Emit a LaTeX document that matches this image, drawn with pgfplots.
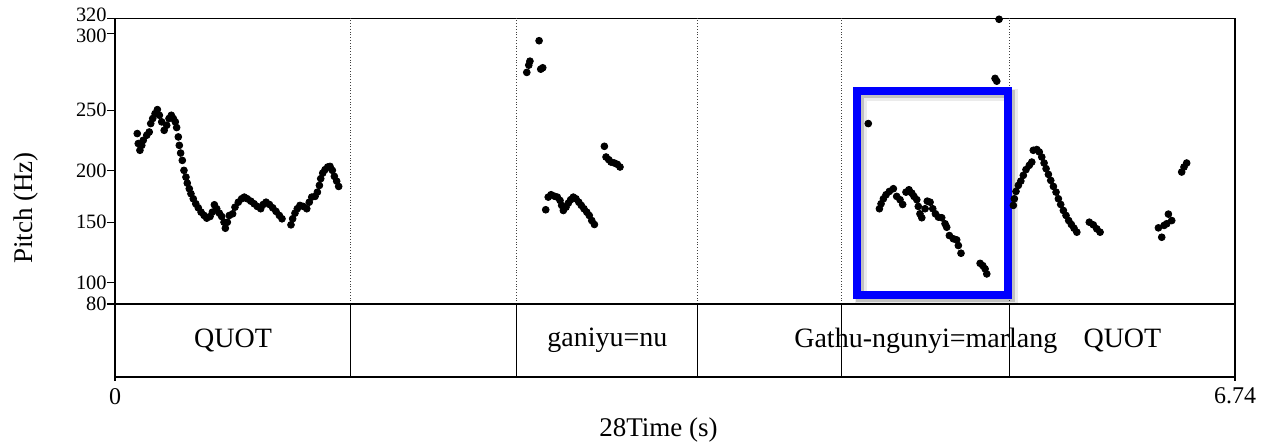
\documentclass[border=0pt]{standalone}
\usepackage{pgfplots}
\pgfplotsset{compat=1.18}
\usepackage{pgfplotstable}
\usepackage{fontspec}
\setmainfont{Liberation Serif}

\pgfplotstableread{
t f
0.134 230.6
0.140 222.3
0.150 216.7
0.161 220.8
0.170 225.0
0.191 229.2
0.206 231.9
0.215 238.9
0.227 243.1
0.241 247.2
0.255 250.4
0.267 245.8
0.281 240.3
0.296 233.3
0.311 237.5
0.325 243.1
0.339 245.8
0.351 243.1
0.363 240.3
0.371 235.6
0.381 227.8
0.387 220.8
0.395 214.4
0.405 208.3
0.415 200.0
0.427 193.5
0.435 187.7
0.447 182.3
0.457 177.5
0.471 172.6
0.486 167.8
0.501 163.9
0.518 159.7
0.536 156.5
0.552 153.9
0.572 155.5
0.586 159.7
0.598 166.8
0.612 163.0
0.628 158.7
0.642 155.5
0.656 150.0
0.664 145.0
0.676 150.0
0.688 156.5
0.708 158.1
0.722 164.5
0.742 169.3
0.762 172.6
0.778 174.2
0.796 172.6
0.817 170.3
0.837 167.8
0.856 165.2
0.877 163.0
0.892 167.1
0.909 169.3
0.929 167.1
0.949 163.9
0.969 160.4
0.989 156.5
1.005 153.3
1.059 147.8
1.069 153.3
1.083 158.7
1.097 163.0
1.113 166.2
1.133 165.2
1.154 163.0
1.169 169.3
1.184 174.2
1.204 174.9
1.218 179.0
1.230 185.5
1.238 192.0
1.250 197.4
1.264 200.6
1.280 202.8
1.294 203.3
1.308 200.0
1.320 194.2
1.334 189.6
1.346 184.5
2.478 274.6
2.490 279.3
2.497 281.9
2.552 295.2
2.562 276.7
2.574 277.6
2.592 162.0
2.607 174.2
2.624 176.5
2.644 175.1
2.662 174.2
2.678 171.0
2.688 166.2
2.698 161.3
2.714 164.5
2.728 168.4
2.742 171.7
2.758 174.2
2.774 172.6
2.791 169.3
2.806 166.2
2.822 163.0
2.839 159.7
2.854 156.5
2.869 151.6
2.885 148.1
2.945 220.0
2.955 211.1
2.971 208.9
2.985 206.9
3.005 206.1
3.023 205.0
3.039 202.8
4.533 238.9
4.600 163.0
4.610 167.8
4.624 172.6
4.640 176.5
4.660 179.7
4.684 182.3
4.704 174.9
4.724 171.7
4.740 167.1
4.760 179.0
4.778 181.3
4.795 178.0
4.808 174.9
4.825 171.7
4.834 165.2
4.844 158.1
4.855 154.3
4.875 163.0
4.888 170.3
4.905 169.3
4.921 163.0
4.937 158.1
4.955 154.9
4.975 154.3
4.995 148.7
5.005 145.8
5.021 138.9
5.045 136.2
5.065 135.3
5.075 130.6
5.091 124.2
5.206 115.8
5.222 113.9
5.236 111.2
5.246 107.0
5.296 270.7
5.306 268.9
5.320 318.7
5.406 166.2
5.412 172.6
5.422 179.7
5.436 185.5
5.451 189.7
5.466 195.2
5.482 200.6
5.502 204.2
5.517 206.9
5.526 216.7
5.547 217.3
5.562 215.3
5.577 211.1
5.591 206.1
5.603 201.4
5.617 196.1
5.631 190.3
5.647 184.5
5.663 179.0
5.677 172.6
5.691 167.1
5.707 161.3
5.723 156.5
5.739 151.6
5.755 148.1
5.771 145.0
5.788 141.7
5.863 150.0
5.887 147.8
5.908 144.5
5.928 141.7
6.279 145.3
6.299 137.5
6.313 147.3
6.329 148.7
6.339 157.8
6.359 151.6
6.419 198.4
6.433 202.8
6.449 206.1
}\pitch

\begin{document}
\begin{tikzpicture}
\path[use as bounding box] (0,0) rectangle (631.5pt,222pt);
\begin{axis}[
  at={(57.5pt,70pt)}, anchor=south west,
  scale only axis, width=560pt, height=142.85pt,
  xmin=0, xmax=6.74, ymin=80, ymax=320,
  y coord trafo/.code={\pgfmathparse{#1<100 ? (#1-80)*1.08 : (#1<150 ? 21.6+(#1-100)*1.2 : (#1<200 ? 81.6+(#1-150)*1.034 : (#1<250 ? 133.3+(#1-200)*1.2 : (#1<300 ? 193.3+(#1-250)*1.534 : 270+(#1-300)*0.75))))}},
  y coord inv trafo/.code={\pgfmathparse{#1<21.6 ? 80+#1/1.08 : (#1<81.6 ? 100+(#1-21.6)/1.2 : (#1<133.3 ? 150+(#1-81.6)/1.034 : (#1<193.3 ? 200+(#1-133.3)/1.2 : (#1<270 ? 250+(#1-193.3)/1.534 : 300+(#1-270)/0.75))))}},
  ytick={80,100,150,200,250,300,320},
  yticklabels={80,100,150,200,250,\raisebox{-4.4pt}[0pt][0pt]{300},\raisebox{-1.7pt}[0pt][0pt]{320}},
  xtick=\empty,
  extra x ticks={1.420,2.419,3.508,4.374,5.385},
  extra x tick labels={},
  extra x tick style={grid=major, major tick length=0pt, major grid style={black!75, densely dotted, line width=0.5pt}},
  ytick pos=left, tick align=outside, major tick length=4pt,
  axis line style={line width=0.6pt},
  tick style={line width=0.6pt, black},
  yticklabel style={font=\fontsize{10.2}{11}\selectfont, inner sep=0pt},
  clip=false,
]
\addplot[only marks, mark=*, mark size=1.7pt, black] table[x=t,y=f]{\pitch};
\draw[black, opacity=0.08, line width=6pt, xshift=2pt, yshift=-2pt] (rel axis cs:0.6625,0.0315) rectangle (rel axis cs:0.7973,0.7455);
\draw[black, opacity=0.18, line width=4pt, xshift=1.5pt, yshift=-1.5pt] (rel axis cs:0.6625,0.0315) rectangle (rel axis cs:0.7973,0.7455);
\draw[blue, line width=4pt] (rel axis cs:0.6625,0.0315) rectangle (rel axis cs:0.7973,0.7455);
\end{axis}
\begin{axis}[
  at={(57.5pt,33.5pt)}, anchor=south west,
  scale only axis, width=560pt, height=36.5pt,
  xmin=0, xmax=6.74, ymin=0, ymax=1,
  ytick=\empty,
  xtick={0,6.74}, xticklabels={0,6.74},
  xtick pos=bottom, tick align=outside, major tick length=2pt,
  extra x ticks={1.420,2.419,3.508,4.374,5.385},
  extra x tick labels={},
  extra x tick style={grid=major, major tick length=0pt, major grid style={black, solid, line width=0.5pt}},
  axis line style={line width=0.6pt},
  tick style={line width=0.6pt, black},
  xticklabel style={font=\fontsize{12}{13}\selectfont},
  clip=false,
]
\node[font=\fontsize{14}{16}\selectfont] at (axis cs:0.710,0.5) {QUOT};
\node[font=\fontsize{14}{16}\selectfont] at (axis cs:2.9635,0.5) {ganiyu=nu};
\node[font=\fontsize{14}{16}\selectfont] at (axis cs:4.8795,0.5) {Gathu-ngunyi=marlang};
\node[font=\fontsize{14}{16}\selectfont] at (axis cs:6.0625,0.5) {QUOT};
\draw[line width=1.1pt] (rel axis cs:0,0) -- (rel axis cs:1,0);
\end{axis}
\node[rotate=90, font=\fontsize{13.5}{16}\selectfont] at (13pt,118pt) {Pitch (Hz)};
\node[font=\fontsize{13.5}{16}\selectfont] at (336pt,7pt) {\llap{28}Time (s)};
\end{tikzpicture}
\end{document}
